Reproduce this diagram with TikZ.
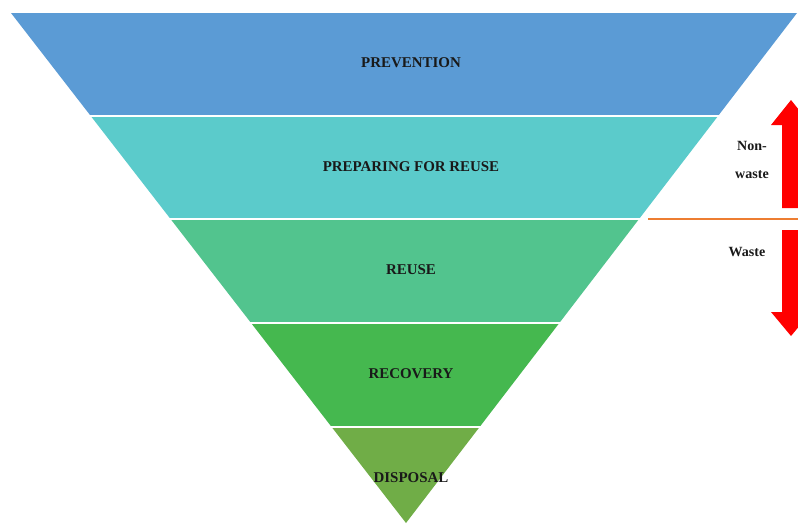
\documentclass[tikz,border=0pt]{standalone}
\usepackage{fontspec}
\setmainfont{Liberation Serif}
\definecolor{prevblue}{HTML}{5B9BD5}
\definecolor{prepteal}{HTML}{5BCBCB}
\definecolor{reusegreen}{HTML}{52C48E}
\definecolor{recovgreen}{HTML}{45B84F}
\definecolor{dispgreen}{HTML}{70AD47}
\definecolor{splitorange}{HTML}{ED7D31}
\tikzset{
  level/.style={font=\fontsize{8.5}{9}\selectfont\bfseries, text=black!90},
  side/.style={font=\fontsize{8}{16}\selectfont\bfseries, text=black!90, align=center},
  gap/.style={white, line width=1.3pt},
  bigarrow/.style={fill=red}
}
\begin{document}
\begin{tikzpicture}[x=0.02cm, y=-0.02cm]

        \useasboundingbox (0, 0) rectangle (798, 525);

        \coordinate (tl) at (11, 13);
        \coordinate (tr) at (797, 13);
        \coordinate (apex) at (406, 523);

        \begin{scope}
          \clip (tl) -- (tr) -- (apex) -- cycle;
          \fill[prevblue]   (0, 13)  rectangle (798, 116);
          \fill[prepteal]   (0, 116) rectangle (798, 219);
          \fill[reusegreen] (0, 219) rectangle (798, 323);
          \fill[recovgreen] (0, 323) rectangle (798, 427);
          \fill[dispgreen]  (0, 427) rectangle (798, 525);
        \end{scope}

        \draw[gap] (80, 116) -- (730, 116);
        \draw[gap] (160, 219) -- (648, 219);
        \draw[gap] (240, 323) -- (570, 323);
        \draw[gap] (320, 427) -- (490, 427);

        \draw[splitorange, line width=1pt] (648, 219) -- (798, 219);

        \node[level] (prevention) at (411, 63)  {PREVENTION};
        \node[level] (preparing)  at (411, 167) {PREPARING FOR REUSE};
        \node[level] (reuse)      at (411, 270) {REUSE};
        \node[level] (recovery)   at (411, 374) {RECOVERY};
        \node[level] (disposal)   at (411, 478) {DISPOSAL};

        \node[side] (nonwaste) at (752, 160) {Non-\\waste};
        \node[side] (waste)    at (747, 252) {Waste};

        \fill[bigarrow] (791, 100) -- (811, 125) -- (800, 125) -- (800, 208)
                        -- (782, 208) -- (782, 125) -- (771, 125) -- cycle;
        \fill[bigarrow] (791, 336) -- (811, 312) -- (800, 312) -- (800, 230)
                        -- (782, 230) -- (782, 312) -- (771, 312) -- cycle;

      \end{tikzpicture}
\end{document}
